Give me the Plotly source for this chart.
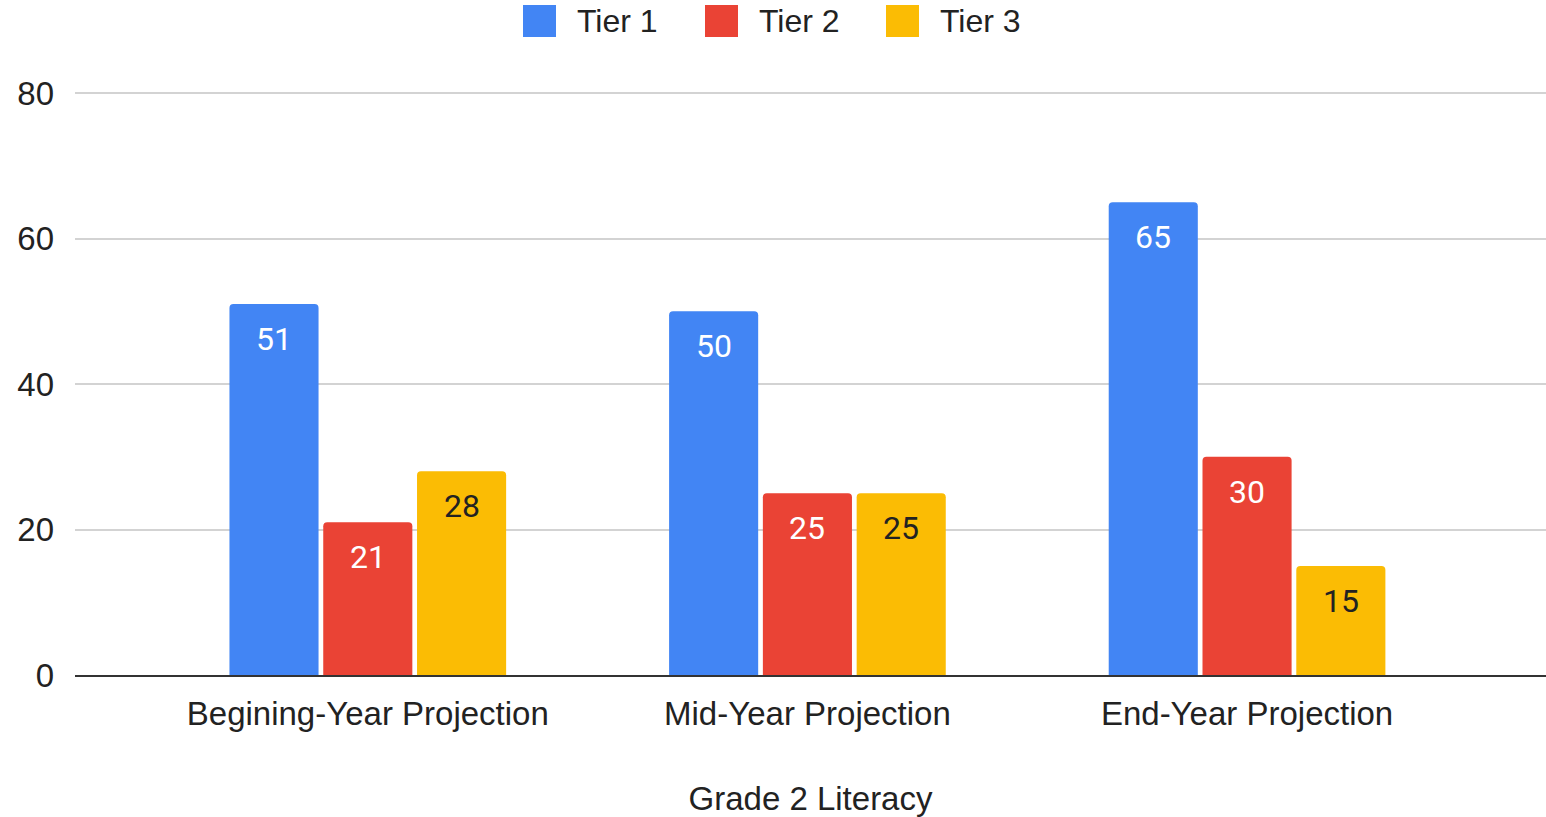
import plotly.graph_objects as go

categories = ["Begining-Year Projection", "Mid-Year Projection", "End-Year Projection"]
series_names = ["Tier 1", "Tier 2", "Tier 3"]
tier1 = [51, 50, 65]
tier2 = [21, 25, 30]
tier3 = [28, 25, 15]
colors = ["#4285F4", "#EA4335", "#FBBC04"]
label_colors = ["#FFFFFF", "#FFFFFF", "#222222"]
y_ticks = [0, 20, 40, 60, 80]

W, H = 1546, 817
ML, MR, MT, MB = 75, 0, 91, 142
BARGAP = 0.36
series = [tier1, tier2, tier3]

fig = go.Figure()
for name, vals, col in zip(series_names, series, colors):
    fig.add_trace(go.Bar(
        name=name, x=categories, y=vals,
        marker=dict(color=col, line=dict(width=0), cornerradius=4),
        showlegend=False,
    ))

# value labels placed inside the top of each bar, through the axes
n = len(series)
slot = (1 - BARGAP) / n
annotations = []
for si, (vals, lc) in enumerate(zip(series, label_colors)):
    for ci, v in enumerate(vals):
        annotations.append(dict(
            x=ci + (si - (n - 1) / 2) * slot, y=v, xref="x", yref="y",
            text=str(v), showarrow=False, yshift=-35, yanchor="middle",
            font=dict(family="Roboto", size=32, color=lc),
        ))

# custom legend (large squares) at the top
pw = W - ML - MR
ph = H - MT - MB
def px2x(px):
    return (px - ML) / pw
def py2y(py):
    return (H - MB - py) / ph

shapes = []
leg_sq_x = [523, 705, 886]
for name, col, sx in zip(series_names, colors, leg_sq_x):
    shapes.append(dict(type="rect", xref="paper", yref="paper",
                       x0=px2x(sx), x1=px2x(sx + 33), y0=py2y(37), y1=py2y(5),
                       fillcolor=col, line=dict(width=0), layer="above"))
    annotations.append(dict(x=px2x(sx + 52), y=py2y(21), xref="paper", yref="paper",
                            text=name, showarrow=False, xanchor="left", yanchor="middle",
                            font=dict(family="Liberation Sans, Arial", size=32, color="#222222")))

fig.update_layout(
    width=W, height=H,
    barmode="group", bargap=BARGAP, bargroupgap=0.05,
    plot_bgcolor="white", paper_bgcolor="white",
    margin=dict(l=ML, r=MR, t=MT, b=MB, autoexpand=False),
    font=dict(family="Liberation Sans, Arial", size=33, color="#222222"),
    showlegend=False,
    annotations=annotations,
    shapes=shapes,
    xaxis=dict(
        type="category", range=[-0.666, 2.68], automargin=False,
        showgrid=False, showline=True, linecolor="#333333", linewidth=2,
        ticks="", ticklabelstandoff=8, tickfont=dict(size=33, color="#222222"),
        title=dict(text="Grade 2 Literacy", font=dict(size=33, color="#222222"), standoff=58),
    ),
    yaxis=dict(
        range=[0, 80.3], tickvals=y_ticks, showgrid=True, gridcolor="#D3D3D3", gridwidth=2,
        zeroline=False, showline=False, ticks="", ticklabelstandoff=20, automargin=False,
        tickfont=dict(size=33, color="#222222"),
    ),
)
fig.write_html(
    "out.html",
    config={"displayModeBar": False},
    post_script="document.body.style.margin='0px';document.body.style.overflow='hidden';",
)
